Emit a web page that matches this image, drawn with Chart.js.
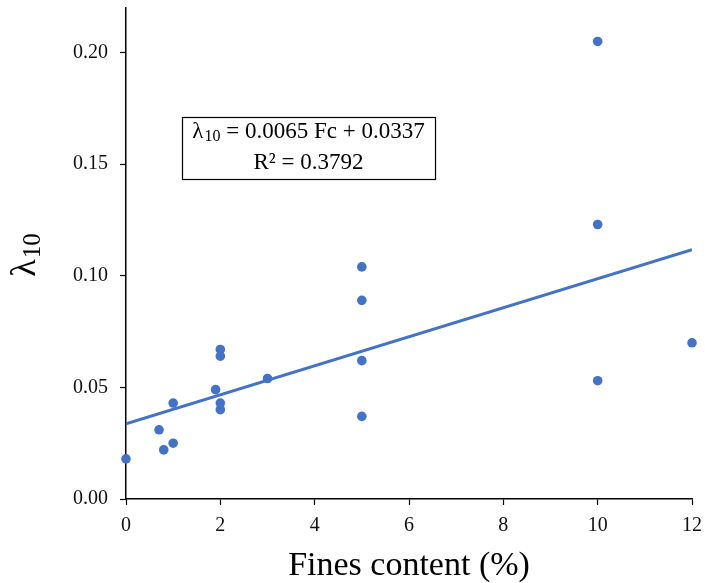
<!DOCTYPE html>
<html>
<head>
<meta charset="utf-8">
<script src="https://cdn.jsdelivr.net/npm/chart.js@4"></script>
<style>
  body { margin: 0; background: #fff; }
  #wrap { width: 705px; height: 583px; }
</style>
</head>
<body>
<div id="wrap"><canvas id="scatterChart" width="705" height="583"></canvas></div>
<script>
// measured samples: fines content (%) vs lambda_10
const finesContent = [0, 0.7, 0.8, 1, 1, 1.9, 2, 2, 2, 2, 3, 5, 5, 5, 5, 10, 10, 10, 12];
const lambda10 = [0.018, 0.031, 0.022, 0.025, 0.043, 0.049, 0.067, 0.064, 0.043, 0.040,
  0.054, 0.104, 0.089, 0.062, 0.037, 0.205, 0.123, 0.053, 0.070];

// linear fit reported in the box
const fitSlope = 0.0065;
const fitIntercept = 0.0337;
const fitR2 = 0.3792;
const fitRange = [0, 12];

const xTicks = [0, 2, 4, 6, 8, 10, 12];
const yTicks = [0, 0.05, 0.1, 0.15, 0.2];

const blue = "#4472C4";
const serif = "'Liberation Serif', 'DejaVu Serif', serif";

let points = finesContent.map((x, i) => ({ x: x, y: lambda10[i] }));
let fitLine = fitRange.map(x => ({ x: x, y: fitSlope * x + fitIntercept }));

// draws a lambda with a "10" subscript, returns its width
function drawLambda(ctx, x, y, size, draw) {
  ctx.font = size + "px " + serif;
  let w = ctx.measureText("λ").width;
  if (draw) ctx.fillText("λ", x, y);
  let sub = Math.round(size * 0.7);
  ctx.font = sub + "px " + serif;
  if (draw) ctx.fillText("10", x + w + 1, y + size * 0.22);
  return w + 1 + ctx.measureText("10").width;
}

const extras = {
  id: "extras",
  afterDraw(chart) {
    let ctx = chart.ctx;
    ctx.save();
    ctx.fillStyle = "#000";
    ctx.textBaseline = "middle";
    ctx.textAlign = "left";

    // y axis title, rotated
    ctx.translate(26, 255);
    ctx.rotate(-Math.PI / 2);
    let full = drawLambda(ctx, 0, 0, 36, false);
    drawLambda(ctx, -full / 2, 0, 36, true);
    ctx.setTransform(1, 0, 0, 1, 0, 0);

    // equation box
    let bx = 182, by = 117, bw = 253, bh = 62;
    ctx.strokeStyle = "#000";
    ctx.lineWidth = 1.2;
    ctx.strokeRect(bx + 0.5, by + 0.5, bw, bh);

    let size = 23;
    let rest = " = " + fitSlope.toFixed(4) + " Fc + " + fitIntercept.toFixed(4);
    ctx.font = size + "px " + serif;
    let restW = ctx.measureText(rest).width;
    let lw = drawLambda(ctx, 0, 0, size, false);
    let startX = bx + bw / 2 - (lw + restW) / 2;
    drawLambda(ctx, startX, by + 15, size, true);
    ctx.font = size + "px " + serif;
    ctx.fillText(rest, startX + lw, by + 15);

    ctx.textAlign = "center";
    ctx.fillText("R² = " + fitR2.toFixed(4), bx + bw / 2, by + 46);
    ctx.restore();
  }
};

let ctx = document.getElementById("scatterChart").getContext("2d");

let chart = new Chart(ctx, {
  type: "scatter",
  data: {
    datasets: [
      {
        label: "data",
        data: points,
        backgroundColor: blue,
        borderWidth: 0,
        pointRadius: 4.8,
        clip: false,
        order: 1,
      },
      {
        type: "line",
        label: "fit",
        data: fitLine,
        borderColor: blue,
        borderWidth: 3,
        pointRadius: 0,
        fill: false,
        order: 2,
      },
    ],
  },
  options: {
    responsive: false,
    animation: false,
    layout: {
      padding: { top: 8, right: 13, bottom: 0, left: 0 },
    },
    plugins: {
      legend: { display: false },
      tooltip: { enabled: false },
    },
    scales: {
      x: {
        type: "linear",
        min: 0,
        max: 12,
        afterBuildTicks: scale => { scale.ticks = xTicks.map(v => ({ value: v })); },
        afterFit: scale => {
          scale.height = 84;
          scale.paddingLeft = 0;
          scale.paddingRight = 0;
        },
        ticks: {
          color: "#111",
          padding: 9,
          font: { family: serif, size: 20 },
        },
        grid: { drawOnChartArea: false, tickLength: 6, color: "#000", tickWidth: 1.2 },
        border: { color: "#000", width: 1.5 },
        title: {
          display: true,
          text: "Fines content (%)",
          color: "#000",
          font: { family: serif, size: 34, lineHeight: 1 },
          padding: { top: 0, bottom: 0 },
        },
      },
      y: {
        min: 0,
        max: 0.22,
        afterBuildTicks: scale => { scale.ticks = yTicks.map(v => ({ value: v })); },
        afterFit: scale => {
          scale.width = 126;
          scale.paddingTop = 0;
          scale.paddingBottom = 0;
        },
        ticks: {
          color: "#111",
          padding: 12,
          font: { family: serif, size: 20 },
          callback: v => v.toFixed(2),
        },
        grid: { drawOnChartArea: false, tickLength: 6, color: "#000", tickWidth: 1.2 },
        border: { color: "#000", width: 1.5 },
      },
    },
  },
  plugins: [extras],
});
</script>
</body>
</html>
